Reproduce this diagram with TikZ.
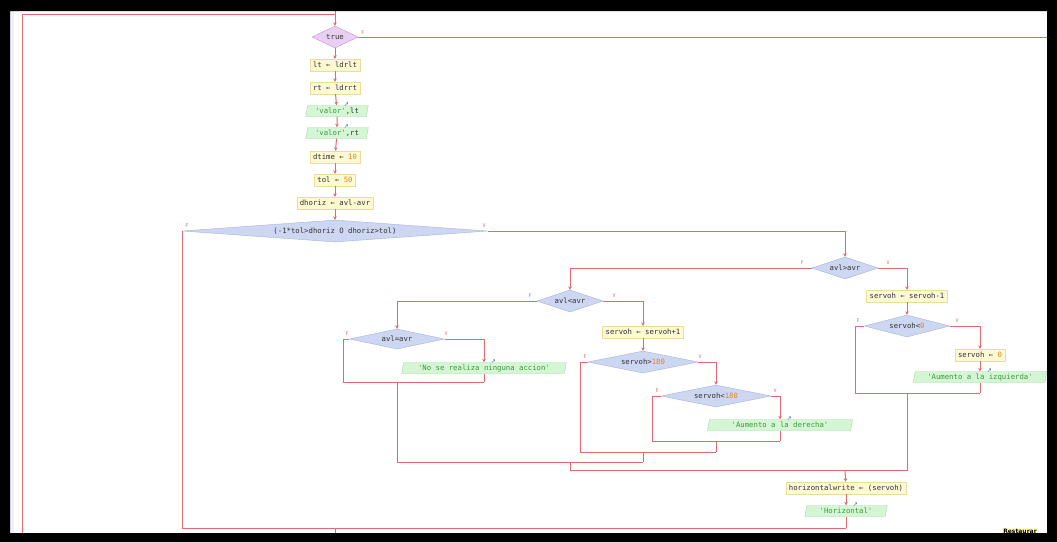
\documentclass[tikz,border=0pt]{standalone}
\usepackage{fontspec}
\usetikzlibrary{shapes.geometric,arrows.meta}
\newfontfamily\psefont{DejaVu Sans Mono}
\newfontfamily\iconfont{DejaVu Sans}
\definecolor{linea}{HTML}{E06A6E}
\definecolor{asigfill}{HTML}{FDFAD2}
\definecolor{asigborde}{HTML}{E8DE9A}
\definecolor{salfill}{HTML}{D4F6D4}
\definecolor{salborde}{HTML}{A2DCA2}
\definecolor{condfill}{HTML}{CDD7F1}
\definecolor{condborde}{HTML}{A3B3DD}
\definecolor{mienfill}{HTML}{E9D0F3}
\definecolor{mienborde}{HTML}{C68EDA}
\definecolor{cadena}{HTML}{3C9A3C}
\definecolor{numero}{HTML}{E0862A}
\definecolor{icono}{HTML}{4A5A9A}
\newcommand{\cad}[1]{\textcolor{cadena}{#1}}
\newcommand{\nro}[1]{\textcolor{numero}{#1}}

\begin{document}
\begin{tikzpicture}[x=1pt,y=-1pt,
    flujo/.style={draw=linea,line width=1pt},
    flecha/.style={flujo,-{Stealth[length=3.5pt,width=3.5pt]}},
    asig/.style={draw=asigborde,fill=asigfill,minimum height=12pt,inner xsep=3pt,inner ysep=1pt,font=\psefont\fontsize{7.3}{8}\selectfont,text=black!80},
    salida/.style={trapezium,trapezium left angle=80,trapezium right angle=100,draw=salborde,fill=salfill,minimum height=11pt,inner xsep=1pt,inner ysep=1pt,font=\psefont\fontsize{7.3}{8}\selectfont,text=black!80},
    cond/.style={diamond,draw=condborde,fill=condfill,inner sep=0pt,font=\psefont\fontsize{7.3}{8}\selectfont,text=black!80},
    mientras/.style={diamond,draw=mienborde,fill=mienfill,inner sep=0pt,font=\psefont\fontsize{7.3}{8}\selectfont,text=black!80},
    etiq/.style={font=\psefont\fontsize{5}{5}\selectfont,text=linea,inner sep=0pt},
    icono/.style={font=\iconfont\fontsize{6}{6}\selectfont,text=icono,inner sep=0pt,anchor=south west}]
\useasboundingbox (0,0) rectangle (1057,542);
\fill[white] (0,0) rectangle (1057,542);
\fill[blue!6] (10,11) rectangle (14,533);

% bucle principal
\node[mientras,minimum width=46pt,minimum height=22pt,aspect=2.1] (mien) at (335,37) {true};
\node[asig] (a1) at (335,65) {lt ← ldrlt};
\node[asig] (a2) at (335,88) {rt ← ldrrt};
\node[salida] (o1) at (337,111) {\cad{'valor'},lt};
\node[salida] (o2) at (337,133) {\cad{'valor'},rt};
\node[asig] (a3) at (335,157) {dtime ← \nro{10}};
\node[asig] (a4) at (335,180) {tol ← \nro{50}};
\node[asig] (a5) at (335,203) {dhoriz ← avl-avr};
\node[cond,minimum width=305pt,minimum height=22pt,aspect=13.8] (c1) at (335,231) {(-1*tol>dhoriz O dhoriz>tol)};

% rama derecha
\node[cond,minimum width=66pt,minimum height=22pt,aspect=3] (c2) at (845,268) {avl>avr};
\node[asig] (a6) at (907,296) {servoh ← servoh-1};
\node[cond,minimum width=85pt,minimum height=22pt,aspect=3.9] (c3) at (907,326) {servoh<\nro{0}};
\node[asig] (a7) at (980,355) {servoh ← \nro{0}};
\node[salida] (o3) at (980,377) {\cad{'Aumento a la izquierda'}};

% rama izquierda
\node[cond,minimum width=66pt,minimum height=22pt,aspect=3] (c4) at (570,301) {avl<avr};
\node[cond,minimum width=95pt,minimum height=20pt,aspect=4.7] (c5) at (397,339) {avl=avr};
\node[salida] (o4) at (484,368) {\cad{'No se realiza ninguna accion'}};
\node[asig] (a8) at (643,332) {servoh ← servoh+1};
\node[cond,minimum width=110pt,minimum height=22pt,aspect=5] (c6) at (643,362) {servoh>\nro{180}};
\node[cond,minimum width=110pt,minimum height=22pt,aspect=5] (c7) at (716,396) {servoh<\nro{180}};
\node[salida] (o5) at (780,425) {\cad{'Aumento a la derecha'}};

% final
\node[asig] (a9) at (846,488) {horizontalwrite ← (servoh)};
\node[salida] (o6) at (846,511) {\cad{'Horizontal'}};

\foreach \o in {o1,o2,o3,o4,o5,o6}
  \node[icono] at ([xshift=1pt,yshift=-1pt]\o.north east) {↗};

% puntos de union
\coordinate (izq) at (22,14);
\coordinate (arr) at (335,14);
\coordinate (finmien) at (1057,37);
\coordinate (c1f) at (182,231);
\coordinate (c1v) at (845,231);
\coordinate (c1fin) at (182,528);
\coordinate (jfin) at (846,528);
\coordinate (c2f) at (570,268);
\coordinate (c2v) at (907,268);
\coordinate (c3f) at (855,326);
\coordinate (c3v) at (980,326);
\coordinate (c3j1) at (855,393);
\coordinate (c3j2) at (980,393);
\coordinate (c2j1) at (907,470);
\coordinate (c4f) at (397,301);
\coordinate (c4v) at (643,301);
\coordinate (c5f) at (343,339);
\coordinate (c5v) at (484,339);
\coordinate (c5j1) at (343,382);
\coordinate (c5j2) at (484,382);
\coordinate (c5j3) at (397,462);
\coordinate (c6f) at (580,362);
\coordinate (c6v) at (716,362);
\coordinate (c6j1) at (580,452);
\coordinate (c7f) at (652,396);
\coordinate (c7v) at (780,396);
\coordinate (c7j1) at (652,441);
\coordinate (c7j2) at (780,441);
\coordinate (c4j) at (570,470);

% conectores
\draw[flujo] (22,542) -- (izq) -- (arr);
\draw[flecha] (335,11) -- (mien);
\draw[flujo] (mien) -- (finmien);
\draw[flecha] (mien) -- (a1);
\draw[flecha] (a1) -- (a2);
\draw[flecha] (a2) -- (o1);
\draw[flecha] (o1) -- (o2);
\draw[flecha] (o2) -- (a3);
\draw[flecha] (a3) -- (a4);
\draw[flecha] (a4) -- (a5);
\draw[flecha] (a5) -- (c1);
\draw[flujo] (c1) -- (c1f) -- (c1fin) -- (jfin);
\draw[flujo] (335,528) -- (335,542);
\draw[flecha] (c1) -- (c1v) -- (c2);
\draw[flecha] (c2) -- (c2f) -- (c4);
\draw[flecha] (c2) -- (c2v) -- (a6);
\draw[flecha] (a6) -- (c3);
\draw[flujo] (c3) -- (c3f) -- (c3j1) -- (c3j2);
\draw[flecha] (c3) -- (c3v) -- (a7);
\draw[flecha] (a7) -- (o3);
\draw[flujo] (o3) -- (c3j2);
\draw[flujo] (907,393) -- (c2j1) -- (c4j);
\draw[flecha] (c4) -- (c4f) -- (c5);
\draw[flujo] (c5) -- (c5f) -- (c5j1) -- (c5j2);
\draw[flecha] (c5) -- (c5v) -- (o4);
\draw[flujo] (o4) -- (c5j2);
\draw[flujo] (397,382) -- (c5j3) -- (643,462);
\draw[flecha] (c4) -- (c4v) -- (a8);
\draw[flecha] (a8) -- (c6);
\draw[flujo] (c6) -- (c6f) -- (c6j1) -- (716,452);
\draw[flecha] (c6) -- (c6v) -- (c7);
\draw[flujo] (c7) -- (c7f) -- (c7j1) -- (c7j2);
\draw[flecha] (c7) -- (c7v) -- (o5);
\draw[flujo] (o5) -- (c7j2);
\draw[flujo] (716,441) -- (716,452);
\draw[flujo] (643,452) -- (643,462);
\draw[flujo] (570,462) -- (c4j);
\draw[flecha] (845,470) -- (a9);
\draw[flecha] (a9) -- (o6);
\draw[flujo] (o6) -- (jfin);

% etiquetas de ramas
\node[etiq] (emien) at (363,33) {F};
\node[etiq] (ec1f) at (187,226) {F};
\node[etiq] (ec1v) at (484,226) {V};
\node[etiq] (ec2f) at (802,263) {F};
\node[etiq] (ec2v) at (888,263) {V};
\node[etiq] (ec3f) at (858,321) {F};
\node[etiq] (ec3v) at (957,321) {V};
\node[etiq] (ec4f) at (530,296) {F};
\node[etiq] (ec4v) at (614,296) {V};
\node[etiq] (ec5f) at (347,334) {F};
\node[etiq] (ec5v) at (446,334) {V};
\node[etiq] (ec6f) at (585,357) {F};
\node[etiq] (ec6v) at (700,357) {V};
\node[etiq] (ec7f) at (657,391) {F};
\node[etiq] (ec7v) at (775,391) {V};

\node[font=\iconfont\bfseries\fontsize{6}{6}\selectfont,fill=yellow!25,inner sep=1pt] (rest) at (1020,531) {Restaurar};

% marco negro
\fill[black,even odd rule] (0,0) rectangle (1057,542) (10,11) rectangle (1047,533);
\end{tikzpicture}
\end{document}
